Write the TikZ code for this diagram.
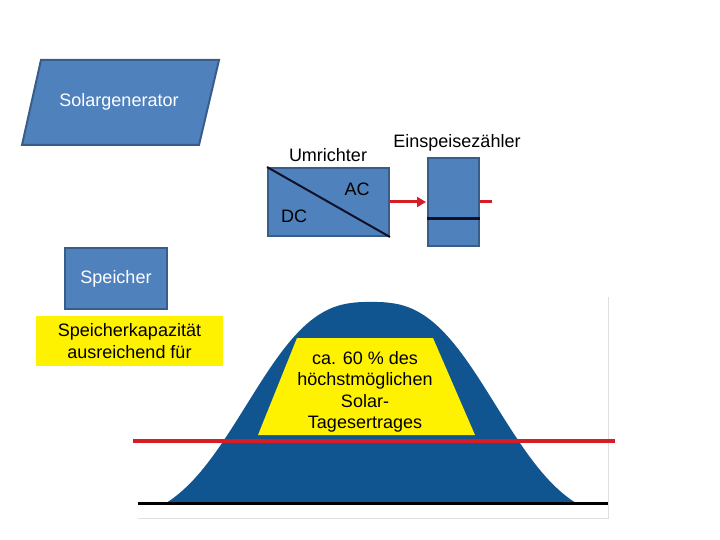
\documentclass[tikz,border=0pt]{standalone}
\usepackage{fontspec}
\setmainfont{Liberation Sans}
\usetikzlibrary{arrows.meta}

\definecolor{boxblue}{RGB}{79,129,189}
\definecolor{boxedge}{RGB}{56,93,138}
\definecolor{hillblue}{RGB}{16,84,144}
\definecolor{linered}{RGB}{214,28,36}
\definecolor{darkline}{RGB}{16,16,40}

\begin{document}
\begin{tikzpicture}[x=1pt,y=-1pt]
\tikzstyle{every node}=[font=\fontsize{18}{21.5}\selectfont,inner sep=0pt]
\tikzstyle{blue box}=[draw=boxedge,fill=boxblue,line width=2pt]
\tikzstyle{light text}=[text=white]
\tikzstyle{red line}=[draw=linered,line width=3pt]
\tikzstyle{mark box}=[fill=yellow,align=center]

\useasboundingbox (0,0) rectangle (720,540);

\draw[blue box] (41,60) -- (219,60) -- (199,145) -- (22,145) -- cycle;
\node[light text] (solar) at (119,102) {Solargenerator};

\node[blue box,minimum width=121pt,minimum height=68pt] (umr) at (328.5,202) {};
\draw[darkline,line width=2pt] (umr.north west) -- (umr.south east);
\node (ac) at (357,189) {AC};
\node (dc) at (294,216) {DC};
\node (umrlabel) at (328,155) {Umrichter};

\node[blue box,minimum width=51pt,minimum height=88pt] (meter) at (453.5,202) {};
\draw[darkline,line width=3pt] (meter.west |- 0,219) -- (meter.east |- 0,219);
\node (meterlabel) at (457,143) {Einspeisezähler};

\draw[red line,-{Triangle[length=9pt,width=10pt]},shorten >=1pt] (umr.east) -- (meter.west);
\draw[red line] (meter.east) -- ++(12,0);

\node[blue box,light text,minimum width=102pt,minimum height=61pt] (speicher) at (116,278.5) {Speicher};
\node[mark box,minimum width=187pt,minimum height=50pt] (capacity) at (129.5,341) {Speicherkapazität\\ausreichend für};

\draw[gray!25,line width=1pt] (608,297) -- (608,518) -- (138,518);
\fill[hillblue] (150,503) -- plot[domain=-205:205,samples=120] ({371+\x},{503-201*(exp(-((abs(\x)/148)^2.7))-0.09)/0.91}) -- (578,503) -- cycle;
\fill[yellow] (297,338) -- (433,338) -- (475,435) -- (258,435) -- cycle;
\node[align=center] (share) at (365,392) {ca. 60 \% des\\höchstmöglichen\\Solar-\\Tagesertrages};
\draw[red line,line width=3.5pt] (133,441) -- (615,441);
\draw[black,line width=3pt] (138,503) -- (608,503);
\end{tikzpicture}
\end{document}
